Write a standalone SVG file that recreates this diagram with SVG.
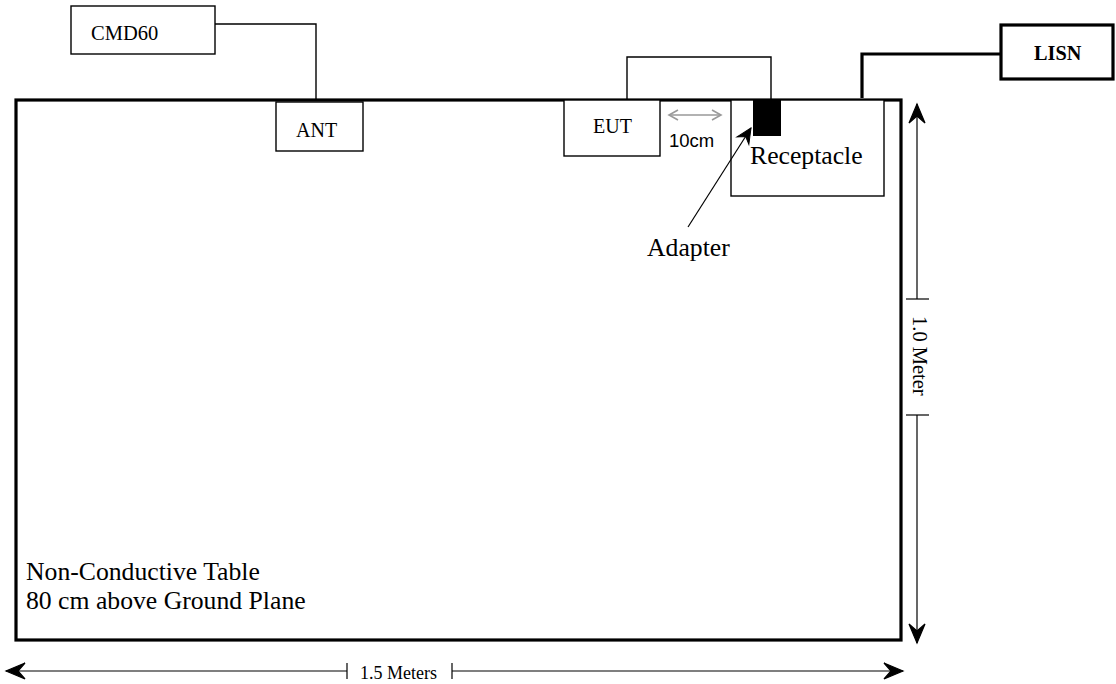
<svg xmlns="http://www.w3.org/2000/svg" width="1116" height="684" viewBox="0 0 1116 684">
<style>
.serif{font-family:"Liberation Serif","Times New Roman",serif;fill:#000}
.sans{font-family:"Liberation Sans",Arial,sans-serif;fill:#000}
.box{fill:#fff;stroke:#000;stroke-width:1.4}
.thick{fill:#fff;stroke:#000;stroke-width:3.2}
.wire{fill:none;stroke:#000;stroke-width:1.4}
.wire3{fill:none;stroke:#000;stroke-width:3.2}
.dim{fill:none;stroke:#000;stroke-width:1.2}
.grey{fill:none;stroke:#999;stroke-width:1.6}
</style>
<defs>
<marker id="ah" viewBox="-22 -10 24 20" refX="0" refY="0" markerWidth="24" markerHeight="20" markerUnits="userSpaceOnUse" orient="auto">
<path d="M0,0 L-19,-8 L-12,0 L-19,8 Z" fill="#000" stroke="#000" stroke-width="1.2" stroke-linejoin="miter"/>
</marker>
<marker id="ahs" viewBox="-18 -9 20 18" refX="0" refY="0" markerWidth="20" markerHeight="18" markerUnits="userSpaceOnUse" orient="auto">
<path d="M0,0 L-15,-7 L-10,0 L-15,7 Z" fill="#000" stroke="#000" stroke-width="1"/>
</marker>
<marker id="gh" viewBox="-11 -7 13 14" refX="0" refY="0" markerWidth="13" markerHeight="14" markerUnits="userSpaceOnUse" orient="auto-start-reverse">
<path d="M-9,-5 L0,0 L-9,5" fill="none" stroke="#999" stroke-width="1.6"/>
</marker>
</defs>

<g id="table">
<rect class="thick" x="16" y="100" width="885" height="540"/>
<text class="serif" x="26" y="580" font-size="25.7">Non-Conductive Table</text>
<text class="serif" x="26" y="609" font-size="25.7">80 cm above Ground Plane</text>
</g>

<g id="cmd60">
<rect class="box" x="71" y="6" width="144" height="48"/>
<text class="serif" x="91" y="40" font-size="20.5">CMD60</text>
</g>

<g id="ant">
<rect class="box" x="276" y="102" width="87" height="49"/>
<text class="serif" x="296" y="137" font-size="20">ANT</text>
</g>

<g id="eut">
<rect class="box" x="564" y="100" width="96" height="56"/>
<text class="serif" x="593" y="133" font-size="20">EUT</text>
</g>

<g id="label-10cm">
<text class="sans" x="669" y="147" font-size="18.5">10cm</text>
</g>

<g id="receptacle">
<rect class="box" x="731" y="100" width="153" height="96"/>
<text class="serif" x="750" y="164" font-size="25.7">Receptacle</text>
</g>

<g id="adapter">
<rect x="753" y="100" width="28" height="36" fill="#000"/>
<text class="serif" x="647" y="256" font-size="25.7">Adapter</text>
</g>

<g id="lisn">
<rect class="thick" x="1001" y="25" width="112" height="54"/>
<text class="serif" x="1034" y="60" font-size="20.3" font-weight="bold">LISN</text>
</g>

<g id="connectors">
<path class="wire" d="M215,24 H316 V100"/>
<path class="wire" d="M627,100 V57 H771 V100"/>
<path class="wire3" d="M1001,54 H862 V98"/>
<line class="grey" x1="669" y1="115" x2="721" y2="115" marker-start="url(#gh)" marker-end="url(#gh)"/>
<line class="dim" x1="688" y1="227" x2="751" y2="128" marker-end="url(#ahs)"/>
</g>

<g id="dim-height">
<line class="dim" x1="917" y1="299" x2="917" y2="104" marker-end="url(#ah)"/>
<line class="dim" x1="917" y1="415" x2="917" y2="643" marker-end="url(#ah)"/>
<line class="dim" x1="906" y1="299" x2="929" y2="299"/>
<line class="dim" x1="906" y1="415" x2="929" y2="415"/>
<text class="serif" transform="translate(912.5,316) rotate(90)" font-size="20.5">1.0 Meter</text>
</g>

<g id="dim-width">
<line class="dim" x1="347" y1="671" x2="6" y2="671" marker-end="url(#ah)"/>
<line class="dim" x1="452" y1="671" x2="903" y2="671" marker-end="url(#ah)"/>
<line class="dim" x1="347" y1="663" x2="347" y2="679"/>
<line class="dim" x1="452" y1="663" x2="452" y2="679"/>
<text class="serif" x="360" y="679" font-size="18">1.5 Meters</text>
</g>
</svg>
